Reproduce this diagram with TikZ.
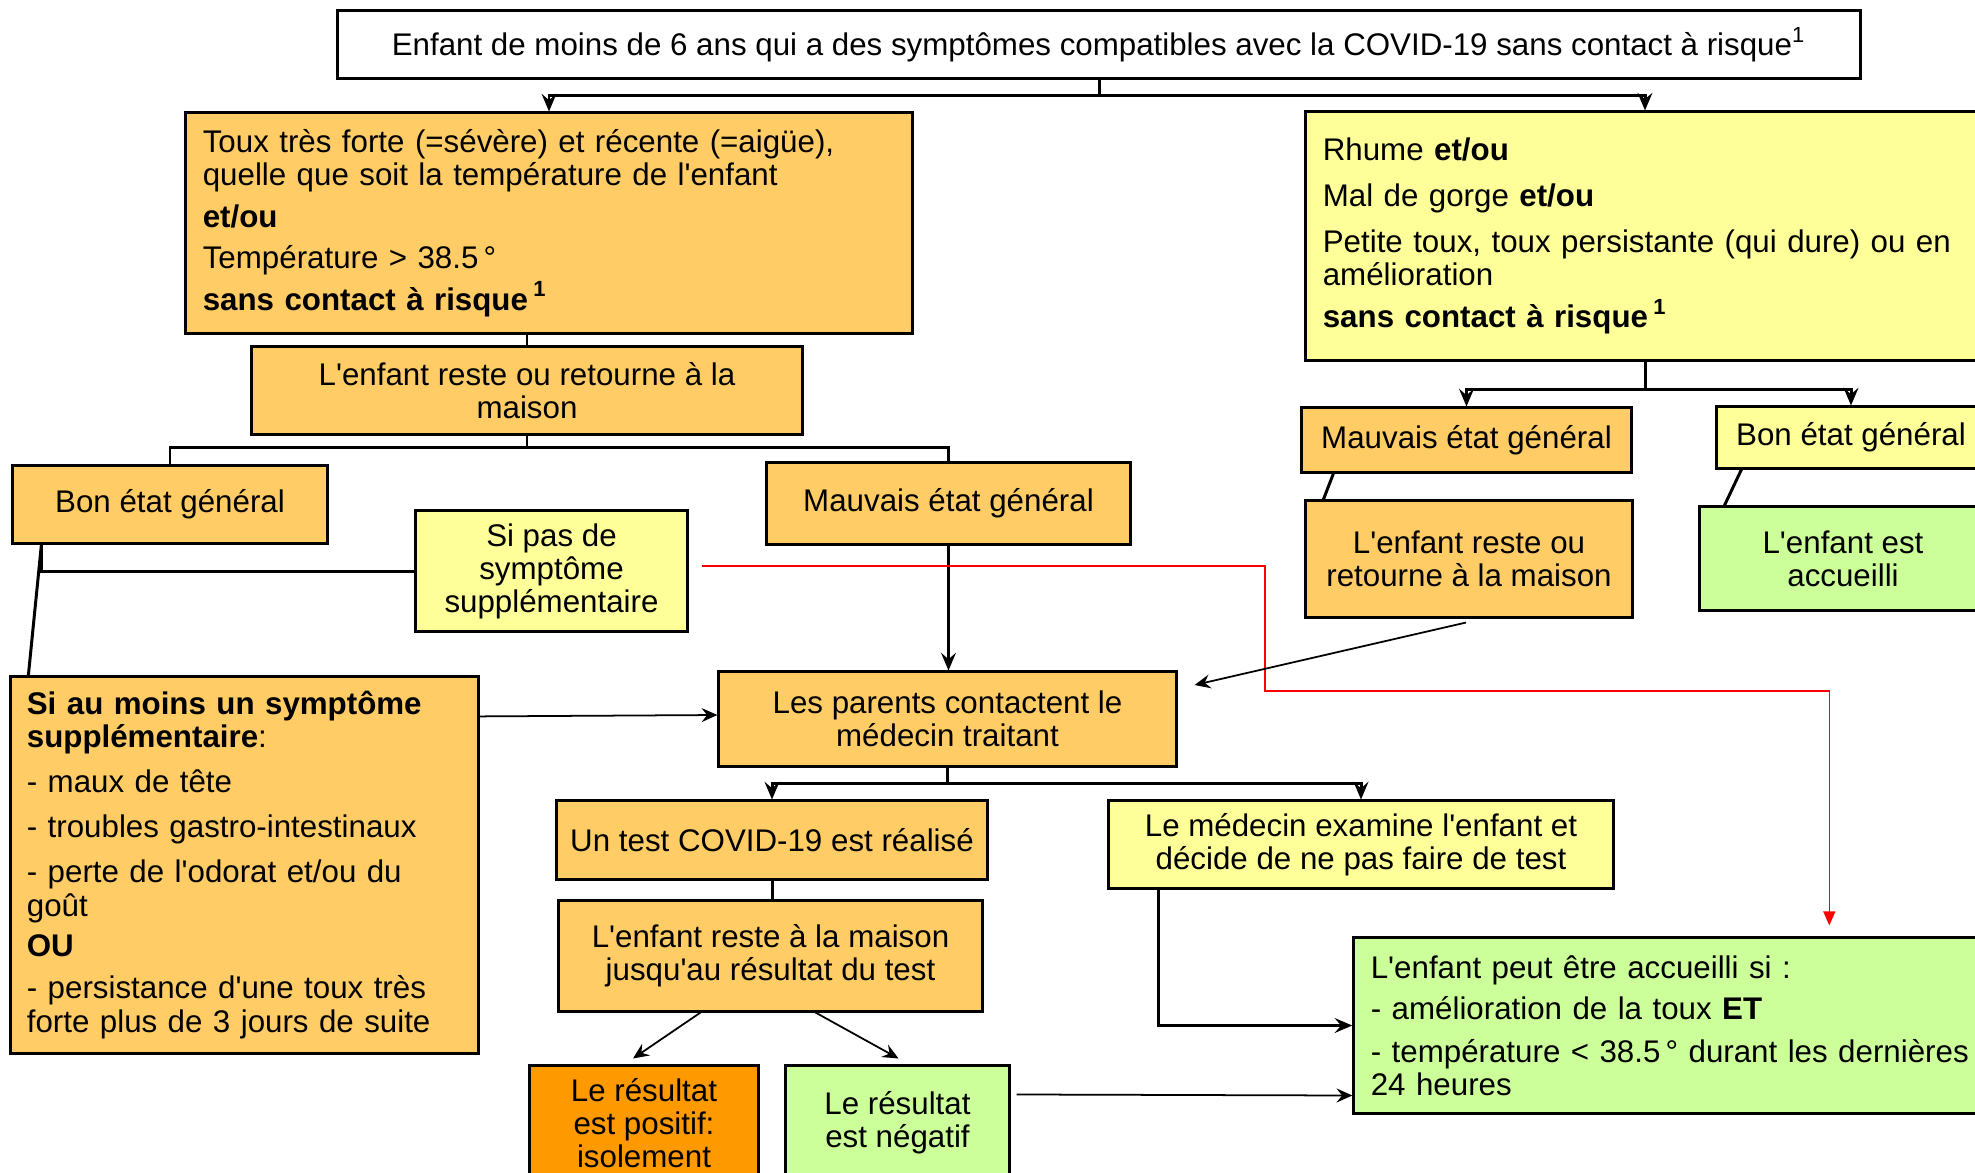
\documentclass[tikz,border=0pt]{standalone}
\usepackage{fontspec}
\setmainfont{Liberation Sans}
\usetikzlibrary{calc, arrows.meta}
\definecolor{boxorange}{RGB}{255,204,102}
\definecolor{boxyellow}{RGB}{255,255,153}
\definecolor{boxgreen}{RGB}{204,255,153}
\definecolor{boxpos}{RGB}{255,153,0}
\newcommand\fs{\fontsize{8.9}{9.4}\selectfont\lineskiplimit=-5pt}
\newcommand\q{\textquotesingle}
\def\gap{2.4pt}
\tikzset{
  box/.style={draw, line width=0.85pt, inner sep=0pt, align=center, font=\fs},
  lbox/.style={box, align=left},
  link/.style={line width=0.85pt},
  arr/.style={link, -{Stealth[length=5pt,width=4.2pt,inset=1.8pt]}},
  thinarr/.style={line width=0.5pt, -{Stealth[length=4.5pt,width=4pt,inset=1.6pt]}},
  redarr/.style={red, line width=0.45pt, -{Triangle[length=4pt,width=3.4pt]}}
}
\begin{document}
\begin{tikzpicture}[x=0.01cm, y=-0.01cm]
  \clip (0,0) rectangle (1975,1172);
  % Depart
  \node[box, minimum width=15.22cm, minimum height=0.67cm] (depart) at (1099,44.5)
    {Enfant de moins de 6 ans qui a des symptômes compatibles avec la COVID-19 sans contact à risque\textsuperscript{1}};

  % Branche gauche
  \node[lbox, fill=boxorange, minimum width=7.26cm, minimum height=2.2cm, text width=6.92cm] (toux) at (549,223)
    {Toux très forte (=sévère) et récente (=aigüe),\\
     quelle que soit la température de l\q enfant\\[\gap]
     \textbf{et/ou}\\[\gap]
     Température > 38.5\,°\\[\gap]
     \textbf{sans contact à risque\,\textsuperscript{1}}};
  \node[box, fill=boxorange, minimum width=5.5cm, minimum height=0.87cm] (maisonG) at (527,390.5)
    {L\q enfant reste ou retourne à la\\maison};
  \node[box, fill=boxorange, minimum width=3.14cm, minimum height=0.77cm] (bonG) at (170,504.5) {Bon état général};
  \node[box, fill=boxorange, minimum width=3.63cm, minimum height=0.81cm] (mauvaisG) at (948.5,503.5) {Mauvais état général};
  \node[box, fill=boxyellow, minimum width=2.71cm, minimum height=1.2cm] (sipas) at (551.5,571)
    {Si pas de\\symptôme\\supplémentaire};
  \node[lbox, fill=boxorange, minimum width=4.67cm, minimum height=3.76cm, text width=4.35cm] (siplus) at (244.5,865)
    {\textbf{Si au moins un symptôme}\\
     \textbf{supplémentaire}:\\[3.4pt]
     - maux de tête\\[3.4pt]
     - troubles gastro-intestinaux\\[3.4pt]
     - perte de l\q odorat et/ou du\\
     goût\\[2pt]
     \textbf{OU}\\[2.8pt]
     - persistance d\q une toux très\\
     forte plus de 3 jours de suite};

  % Medecin et test
  \node[box, fill=boxorange, minimum width=4.57cm, minimum height=0.94cm] (parents) at (947.5,719)
    {Les parents contactent le\\médecin traitant};
  \node[box, fill=boxorange, minimum width=4.3cm, minimum height=0.78cm] (test) at (772,840) {Un test COVID-19 est réalisé};
  \node[box, fill=boxorange, minimum width=4.23cm, minimum height=1.1cm] (attente) at (770.5,956)
    {L\q enfant reste à la maison\\jusqu\q au résultat du test};
  \node[box, fill=boxpos, minimum width=2.28cm, minimum height=1.14cm] (positif) at (644,1123)
    {Le résultat\\est positif:\\isolement};
  \node[box, fill=boxgreen, minimum width=2.23cm, minimum height=1.14cm] (negatif) at (897.5,1123)
    {Le résultat\\est négatif};
  \node[box, fill=boxyellow, minimum width=5.04cm, minimum height=0.87cm] (examen) at (1361,844.5)
    {Le médecin examine l\q enfant et\\décide de ne pas faire de test};
  \node[lbox, fill=boxgreen, minimum width=6.56cm, minimum height=1.75cm, text width=6.22cm] (accueilSi) at (1682,1025.5)
    {L\q enfant peut être accueilli si :\\[\gap]
     - amélioration de la toux \textbf{ET}\\[2.8pt]
     - température < 38.5\,° durant les dernières\\
     24 heures};

  % Branche droite
  \node[lbox, fill=boxyellow, minimum width=6.78cm, minimum height=2.48cm, text width=6.44cm] (rhume) at (1645,236)
    {Rhume \textbf{et/ou}\\[3.7pt]
     Mal de gorge \textbf{et/ou}\\[3.7pt]
     Petite toux, toux persistante (qui dure) ou en\\
     amélioration\\[\gap]
     \textbf{sans contact à risque\,\textsuperscript{1}}};
  \node[box, fill=boxorange, minimum width=3.29cm, minimum height=0.64cm] (mauvaisD) at (1466.5,440) {Mauvais état général};
  \node[box, fill=boxyellow, minimum width=2.68cm, minimum height=0.61cm] (bonD) at (1851,437.5) {Bon état général};
  \node[box, fill=boxorange, minimum width=3.26cm, minimum height=1.16cm] (maisonD) at (1469,559)
    {L\q enfant reste ou\\retourne à la maison};
  \node[box, fill=boxgreen, minimum width=2.86cm, minimum height=1.03cm] (accueilD) at (1843,558.5)
    {L\q enfant est\\accueilli};

  % Liens
  \draw[arr] (depart.south) -- ++(0,16) -| (toux.north);
  \draw[arr] (depart.south) -- ++(0,16) -| (rhume.north);
  \draw[link] (maisonG.north) -- (maisonG.north |- toux.south);
  \draw[link] (maisonG.south) -- ++(0,12) -| (bonG.north);
  \draw[link] (maisonG.south) -- ++(0,12) -| (mauvaisG.north);
  \coordinate (bonpied) at ($(bonG.south west)+(30,0)$);
  \draw[link] (bonpied) |- (sipas.west);
  \draw[link] (bonpied) -- ($(siplus.north west)+(19,0)$);
  \draw[thinarr] ($(siplus.north east)+(0,41)$) -- ($(parents.west)+(0,-4)$);
  \draw[arr] (mauvaisG.south) -- (mauvaisG.south |- parents.north);
  \draw[arr] (parents.south) -- ++(0,16) -| (test.north);
  \draw[arr] (parents.south) -- ++(0,16) -| (examen.north);
  \draw[link] (test.south) -- (test.south |- attente.north);
  \draw[thinarr] ($(attente.south)+(-70,0)$) -- ($(positif.north)+(-11,-6)$);
  \draw[thinarr] ($(attente.south)+(45,0)$) -- ($(negatif.north)+(1,-6)$);
  \draw[thinarr] ($(negatif.north east)+(6,30)$) -- ($(accueilSi.west)+(0,70)$);
  \draw[arr] ($(examen.south west)+(51,0)$) |- (accueilSi.west);
  \draw[redarr] ($(sipas.east)+(13,-5)$) -| (1265,691) -| ($(accueilSi.north west)+(477,-11)$);
  \draw[arr] (rhume.south) -- ++(0,28) -| (mauvaisD.north);
  \draw[arr] (rhume.south) -- ++(0,28) -| (bonD.north);
  \draw[link] ($(mauvaisD.south west)+(33,0)$) -- ($(maisonD.north west)+(19,0)$);
  \draw[link] ($(bonD.south west)+(26,0)$) -- ($(accueilD.north west)+(26,0)$);
  \draw[thinarr] ($(maisonD.south)+(-3,4)$) -- ($(parents.east)+(17,-34)$);
\end{tikzpicture}
\end{document}
